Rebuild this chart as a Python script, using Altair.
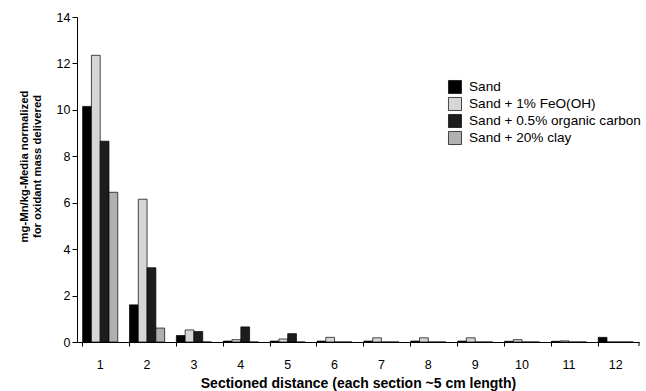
import altair as alt
import pandas as pd

# Section numbers along the column
sections = [str(i) for i in range(1, 13)]

# Normalized Mn per treatment (mg-Mn/kg-media per oxidant mass delivered)
sand = [10.15, 1.6, 0.28, 0.04, 0.04, 0.04, 0.04, 0.04, 0.04, 0.03, 0.03, 0.2]
sand_feo = [12.35, 6.15, 0.52, 0.1, 0.13, 0.2, 0.18, 0.18, 0.18, 0.1, 0.05, 0.0]
sand_org = [8.65, 3.2, 0.45, 0.65, 0.36, 0.0, 0.0, 0.0, 0.0, 0.0, 0.0, 0.0]
sand_clay = [6.45, 0.6, 0.0, 0.0, 0.0, 0.0, 0.0, 0.0, 0.0, 0.0, 0.0, 0.0]

series = ["Sand", "Sand + 1% FeO(OH)", "Sand + 0.5% organic carbon", "Sand + 20% clay"]
fills = ["#000000", "#d6d6d6", "#1c1c1c", "#b0b0b0"]

rows = []
for name, vals in zip(series, [sand, sand_feo, sand_org, sand_clay]):
    for sec, v in zip(sections, vals):
        rows.append({"section": sec, "treatment": name, "value": v})
df = pd.DataFrame(rows)

FONT = "Liberation Sans"

bars = alt.Chart(df).mark_bar(stroke="#000000", strokeWidth=0.7).encode(
    x=alt.X(
        "section:N",
        sort=sections,
        scale=alt.Scale(paddingInner=0.25, paddingOuter=0.12),
        axis=alt.Axis(
            title="Sectioned distance (each section ~5 cm length)",
            labelAngle=0,
            bandPosition=0,
            tickSize=4,
            labelPadding=12,
            titlePadding=6,
            domainColor="#000000",
            tickColor="#000000",
            labelFontSize=12.5,
            titleFontSize=14,
            titleFontWeight="bold",
        ),
    ),
    xOffset=alt.XOffset("treatment:N", sort=series, scale=alt.Scale(paddingInner=0)),
    y=alt.Y(
        "value:Q",
        scale=alt.Scale(domain=[0, 14], nice=False),
        axis=alt.Axis(
            title=["mg-Mn/kg-Media normalized", "for oxidant mass delivered"],
            values=[0, 2, 4, 6, 8, 10, 12, 14],
            grid=False,
            tickSize=5,
            labelPadding=2,
            titlePadding=14,
            titleY=149,
            domainColor="#000000",
            tickColor="#000000",
            labelFontSize=12.5,
            titleFontSize=11.3,
            titleFontWeight="bold",
            titleLineHeight=13,
        ),
    ),
    fill=alt.Fill(
        "treatment:N",
        sort=series,
        scale=alt.Scale(domain=series, range=fills),
        legend=alt.Legend(
            title=None,
            orient="none",
            legendX=371,
            legendY=63,
            symbolType="square",
            symbolSize=170,
            symbolStrokeColor="#000000",
            symbolStrokeWidth=0.7,
            labelFontSize=13.6,
            labelLimit=300,
            rowPadding=1,
            labelOffset=7,
        ),
    ),
)

# closing tick at the right end of the category axis
end_tick = alt.Chart(pd.DataFrame({"v": [0]})).mark_rule(color="#000000").encode(
    x=alt.value(562), y=alt.value(325), y2=alt.value(329)
)

chart = (
    alt.layer(bars, end_tick)
    .properties(
        width=562,
        height=325,
        autosize=alt.AutoSizeParams(type="none"),
        padding={"left": 77, "top": 17, "right": 7, "bottom": 49},
        background="#ffffff",
    )
    .configure_view(stroke=None)
    .configure_axis(labelFont=FONT, titleFont=FONT, labelColor="#000000", titleColor="#000000")
    .configure_legend(labelFont=FONT, labelColor="#000000")
)

chart.save("out.html", embed_options={"renderer": "svg", "actions": False})
